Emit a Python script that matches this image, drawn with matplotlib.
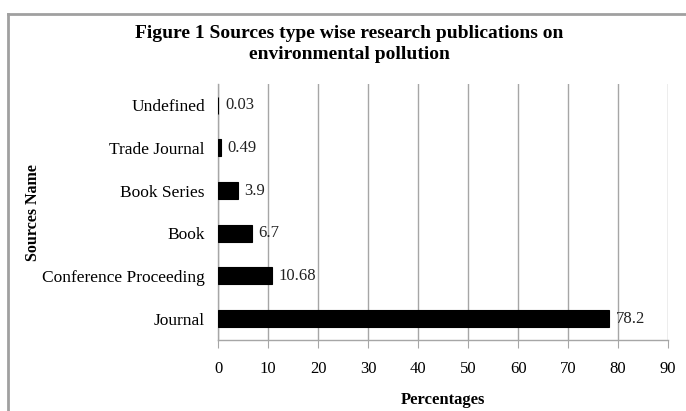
import matplotlib
matplotlib.use("Agg")
import matplotlib.pyplot as plt
from matplotlib.lines import Line2D

categories = ["Journal", "Conference Proceeding", "Book", "Book Series",
              "Trade Journal", "Undefined"]
values = [78.2, 10.68, 6.7, 3.9, 0.49, 0.03]
value_labels = ["78.2", "10.68", "6.7", "3.9", "0.49", "0.03"]
x_ticks = [0, 10, 20, 30, 40, 50, 60, 70, 80, 90]

plt.rcParams.update({
    "font.family": ["Liberation Serif", "DejaVu Serif"],
    "font.size": 12,
})

grid_color = "#a6a6a6"

fig = plt.figure(figsize=(6.86, 4.11), dpi=100)
ax = fig.add_axes([0.318, 0.173, 0.656, 0.623])

y = list(range(len(categories)))
ax.barh(y, values, height=0.4, color="black", edgecolor="black",
        linewidth=0.8, zorder=3)

for yi, v, lab in zip(y, values, value_labels):
    ax.annotate(lab, (v, yi), xytext=(5, 0), textcoords="offset points",
                ha="left", va="center", fontsize=12, color="#222222")

ax.set_xlim(0, 90)
ax.set_ylim(-0.5, len(categories) - 0.5)
ax.set_xticks(x_ticks)
ax.set_yticks(y)
ax.set_yticklabels(categories, fontsize=12.5)
ax.tick_params(axis="y", length=0, pad=9.5)
ax.tick_params(axis="x", length=6, color=grid_color, pad=9, direction="out")

ax.grid(axis="x", color=grid_color, linewidth=1.0, zorder=0)
ax.set_axisbelow(True)
for s in ["top", "right"]:
    ax.spines[s].set_visible(False)
ax.spines["left"].set_color(grid_color)
ax.spines["bottom"].set_color(grid_color)
ax.spines["left"].set_linewidth(1.0)
ax.spines["bottom"].set_linewidth(1.0)

ax.set_xlabel("Percentages", fontweight="bold", fontsize=12, labelpad=11)
fig.text(0.048, 0.482, "Sources Name", rotation=90, ha="center", va="center",
         fontweight="bold", fontsize=11.5)

fig.text(0.509, 0.94, "Figure 1 Sources type wise research publications on\n"
         "environmental pollution", ha="center", va="top",
         fontweight="bold", fontsize=14, linespacing=1.3)

# outer chart frame (only top and left edges fall inside the crop)
frame_color = "#a0a0a0"
fig.add_artist(Line2D([0.011, 1.0], [0.967, 0.967], transform=fig.transFigure,
                      color=frame_color, linewidth=2.0))
fig.add_artist(Line2D([0.011, 0.011], [0.0, 0.967], transform=fig.transFigure,
                      color=frame_color, linewidth=2.0))

fig.savefig("out.png", dpi=100)
